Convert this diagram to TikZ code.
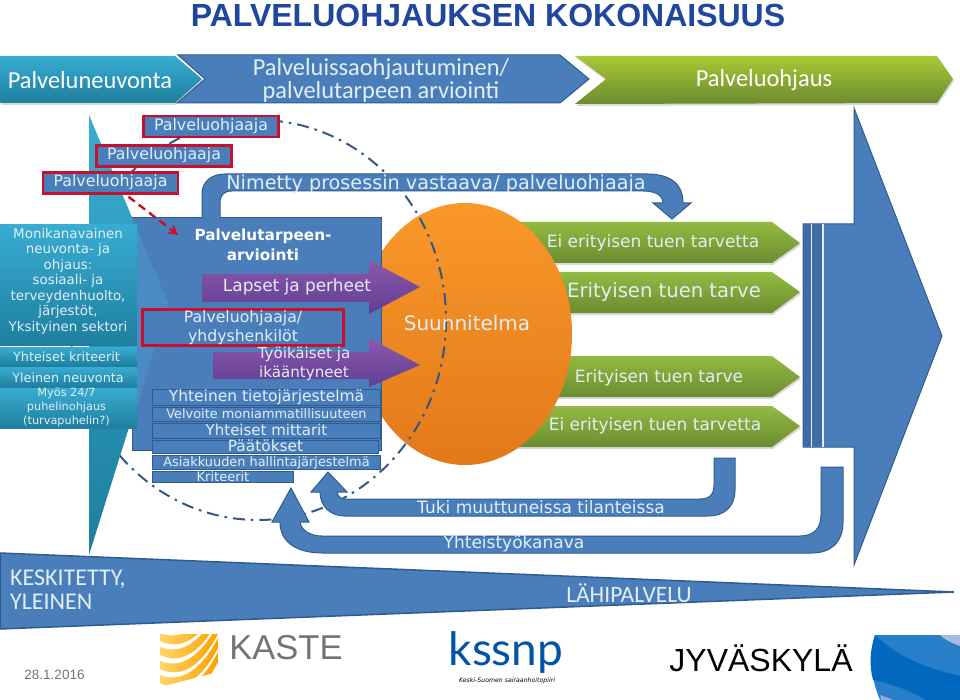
\documentclass[tikz,border=0pt]{standalone}
\usepackage{fontspec}
\setmainfont{DejaVu Sans}
\newfontfamily\titlefont{Liberation Sans}
\newfontfamily\barfont{Carlito}
\newfontfamily\logofont{Lato}
\usepackage{xcolor}
\usetikzlibrary{arrows.meta,positioning,shadows}
\definecolor{mainblue}{HTML}{4A7EBB}
\definecolor{darkblue}{HTML}{2F5C8F}
\definecolor{bandblue}{HTML}{3F6CA6}
\definecolor{wedgeblue}{HTML}{4C8AC4}
\definecolor{paleblue}{HTML}{E2EEF6}
\definecolor{redline}{HTML}{C8102E}
\definecolor{titleblue}{HTML}{1F47A0}
\definecolor{dashblue}{HTML}{34587F}
\definecolor{cyantop}{HTML}{38ACD2}
\definecolor{cyanbottom}{HTML}{1E7F9E}
\definecolor{greentop}{HTML}{93BA42}
\definecolor{greenbottom}{HTML}{6B8C30}
\definecolor{purpletop}{HTML}{8E57AC}
\definecolor{purplebottom}{HTML}{5F3F92}
\definecolor{orangetop}{HTML}{F9982A}
\definecolor{orangebottom}{HTML}{E2791A}
\newcommand{\fsz}[1]{\fontsize{#1}{#1}\selectfont}
\begin{document}
\begin{tikzpicture}[
  x=1pt,y=-1pt,
  blueshape/.style={draw=darkblue,line width=1pt,fill=mainblue},
  cyanshape/.style={top color=cyantop,bottom color=cyanbottom},
  greenshape/.style={top color=greentop,bottom color=greenbottom,drop shadow={shadow xshift=1pt,shadow yshift=-2pt,opacity=.3}},
  purpleshape/.style={top color=purpletop,bottom color=purplebottom},
  redbox/.style={draw=redline,line width=2.4pt,fill=mainblue,text=paleblue,font=\fsz{15.8},minimum width=135pt,minimum height=21pt,inner sep=0pt,text height=10.5pt,text depth=2.5pt},
  listbox/.style={draw=darkblue,line width=1pt,fill=mainblue,text=paleblue,minimum width=228pt,inner sep=0pt,anchor=north west,text height=9.5pt,text depth=1.5pt},
  cyanrow/.style={text=paleblue,font=\fsz{12.8},inner sep=0pt,align=center},
  bartext/.style={text=white,font=\barfont\fsz{24.4},align=center,inner sep=0pt},
  lighttext/.style={text=paleblue,inner sep=0pt,align=center}
]
\useasboundingbox (0,0) rectangle (960,700);
\node[font=\titlefont\bfseries\fsz{32},text=titleblue,inner sep=0pt] (title) at (488,15) {PALVELUOHJAUKSEN KOKONAISUUS};

\shade[cyanshape,drop shadow={shadow xshift=1pt,shadow yshift=-2pt,opacity=.3}] (0,56) -- (175,56) -- (202,79) -- (175,103) -- (0,103) -- cycle;
\shade[greenshape,top color=greentop!80!yellow] (575,56) -- (937,56) -- (953,79) -- (937,103) -- (575,104) -- (606,79) -- cycle;
\draw[blueshape] (178,55) -- (560,55) -- (589,79) -- (560,103) -- (177,103) -- (205,79) -- cycle;
\node[bartext] (neuvonta) at (90,80) {Palveluneuvonta};
\node[bartext,text=paleblue] (arviointi) at (381,80.5) {Palveluissaohjautuminen/\\[-2pt]palvelutarpeen arviointi};
\node[bartext] (ohjaus) at (764,80) {Palveluohjaus};

\foreach \ya/\yb/\yc in {222/243/263,272/292/313,356/377/397,406/426/447}
  \shade[greenshape] (480,\ya) -- (772,\ya) -- (800,\yb) -- (772,\yc) -- (480,\yc) -- cycle;
\shade[top color=orangetop,bottom color=orangebottom] (465,334) ellipse [x radius=107,y radius=131];
\draw[dashblue,line width=2pt,dash pattern=on 12pt off 6pt on 2.5pt off 6pt] (258,320) ellipse [x radius=188,y radius=200];

\draw[blueshape] (132,218) rectangle (381,450);
\shade[cyanshape] (89,115) -- (168,303) -- (89,555) -- cycle;
\fill[wedgeblue] (132,218) -- (168,303) -- (132,425) -- cycle;
\shade[cyanshape] (0,225) rectangle (137,345);
\shade[cyanshape] (0,347) rectangle (137,366);
\shade[cyanshape] (0,367) rectangle (137,387);
\shade[cyanshape] (0,388) rectangle (137,428);
\node[cyanrow,font=\fsz{13.4}\setlength{\baselineskip}{15.5pt}] (kanavat) at (68,281) {Monikanavainen\\neuvonta- ja\\ohjaus:\\sosiaali- ja\\terveydenhuolto,\\järjestöt,\\Yksityinen sektori};
\node[cyanrow] (kriteerit) at (66.5,356.5) {Yhteiset kriteerit};
\node[cyanrow] (neuvonta2) at (68,377.5) {Yleinen neuvonta};
\node[cyanrow,font=\fsz{11.3}\setlength{\baselineskip}{14pt}] (puhelin) at (66.5,407.5) {Myös 24/7\\puhelinohjaus\\(turvapuhelin?)};

\draw[blueshape] (202,218) -- (202,194) .. controls (202,181) and (212,174) .. (225,174) -- (647,174) .. controls (668,174) and (683,182) .. (683,203) -- (691,203) -- (672,219) -- (653,203) -- (663,203) .. controls (663,195) and (655,191) .. (643,191) -- (232,191) .. controls (224,191) and (220,195) .. (220,203) -- (220,218);
\node[lighttext,font=\fsz{19.2}] (nimetty) at (436,184) {Nimetty prosessin vastaava/ palveluohjaaja};

\node[lighttext,text=white,font=\bfseries\fsz{15.3}\setlength{\baselineskip}{20pt}] (tarve) at (263,245) {Palvelutarpeen-\\arviointi};
\node[redbox] (ohjaaja1) at (211,126.5) {Palveluohjaaja};
\node[redbox] (ohjaaja2) at (164,156) {Palveluohjaaja};
\node[redbox] (ohjaaja3) at (110.5,183) {Palveluohjaaja};
\coordinate (tarvekulma) at (178,235);
\draw[redline,line width=2.4pt,dash pattern=on 8pt off 5pt,-{Stealth[length=10pt,width=11pt]}] (ohjaaja3.south) ++(18,2) -- (tarvekulma);

\node[redbox,minimum width=201pt,minimum height=36pt] (yhdys) at (243,327.5) {};
\node[lighttext,font=\fsz{15.7}\setlength{\baselineskip}{19pt}] (yhdysteksti) at (243,328) {Palveluohjaaja/\\yhdyshenkilöt};

\shade[purpleshape] (202,274) -- (369,274) -- (369,260) -- (420,287) -- (369,314) -- (369,302) -- (202,302) -- cycle;
\shade[purpleshape] (213,352) -- (369,352) -- (369,338) -- (420,365) -- (369,387) -- (369,379) -- (213,379) -- cycle;
\node[lighttext,font=\fsz{16.9}] (lapset) at (297,287) {Lapset ja perheet};
\node[lighttext,font=\fsz{15.1}\setlength{\baselineskip}{19pt}] (tyoikaiset) at (304,363.5) {Työikäiset ja\\ikääntyneet};

\node[listbox,minimum height=16pt,font=\fsz{15.5}] (tieto) at (152,389) {Yhteinen tietojärjestelmä};
\node[listbox,minimum height=14pt,font=\fsz{12.9},below=1pt of tieto.south west,anchor=north west] (velvoite) {Velvoite moniammatillisuuteen};
\node[listbox,minimum height=15pt,font=\fsz{15},below=1pt of velvoite.south west,anchor=north west] (mittarit) {Yhteiset mittarit};
\node[listbox,minimum height=13pt,minimum width=226pt,font=\fsz{15.4},below=1pt of mittarit.south west,anchor=north west] (paatokset) {Päätökset};
\node[listbox,minimum height=14pt,font=\fsz{12.9},below=1pt of paatokset.south west,anchor=north west] (asiakkuus) {Asiakkuuden hallintajärjestelmä};
\node[listbox,minimum height=11pt,minimum width=141pt,font=\fsz{13},below=1pt of asiakkuus.south west,anchor=north west] (kriteeri) {Kriteerit};

\node[lighttext,font=\fsz{20}] (suunnitelma) at (467,323) {Suunnitelma};
\node[lighttext,font=\fsz{17}] (ei1) at (653,243) {Ei erityisen tuen tarvetta};
\node[lighttext,font=\fsz{19.6}] (tarve1) at (664,292) {Erityisen tuen tarve};
\node[lighttext,font=\fsz{17}] (tarve2) at (659,378) {Erityisen tuen tarve};
\node[lighttext,font=\fsz{17}] (ei2) at (655,426) {Ei erityisen tuen tarvetta};

\draw[blueshape] (854,108) -- (942,336) -- (854,565) -- (854,447) -- (803,447) -- (803,224) -- (854,224) -- cycle;
\fill[bandblue] (804,225) rectangle (811,446) (812,225) rectangle (822,446);
\draw[paleblue,line width=1.5pt] (811.5,224) -- (811.5,447) (823,224) -- (823,447);

\draw[blueshape] (735,458) -- (735,490) .. controls (735,506) and (725,516) .. (708,516) -- (345,516) .. controls (330,516) and (320,506) .. (320,492) -- (311,492) -- (328,472) -- (347,492) -- (337,492) .. controls (338,496) and (340,499) .. (345,499) -- (700,499) .. controls (710,499) and (714,494) .. (714,485) -- (714,458) -- cycle;
\draw[blueshape] (843,467) -- (843,522) .. controls (843,543) and (830,553) .. (812,553) -- (322,553) .. controls (298,553) and (280,543) .. (280,522) -- (272,522) -- (291,488) -- (309,522) -- (300,522) .. controls (301,530) and (310,536) .. (322,536) -- (800,536) .. controls (814,536) and (821,528) .. (821,515) -- (821,467) -- cycle;
\node[lighttext,font=\fsz{17}] (tuki) at (541,507.5) {Tuki muuttuneissa tilanteissa};
\node[lighttext,font=\fsz{17}] (kanava) at (514,544) {Yhteistyökanava};

\draw[draw=darkblue,line width=1.5pt,fill=mainblue] (0,553) -- (954,592) -- (0,629) -- cycle;
\node[lighttext,font=\barfont\fsz{24}\setlength{\baselineskip}{24pt},align=left,anchor=west] (keskitetty) at (10,590) {KESKITETTY,\\YLEINEN};
\node[lighttext,font=\barfont\fsz{23.5}] (lahipalvelu) at (629,593) {LÄHIPALVELU};

\begin{scope}
\clip (160,634) -- (218,634) -- (218,672) -- (160,687) -- cycle;
\foreach \dy in {-28,-14,0,14,28,42}
  \shade[left color=yellow!45!orange!60!white,right color=orange!75!yellow,shift={(0,\dy)}] (160,647) .. controls (185,657) and (205,635) .. (218,610) -- (218,620) .. controls (205,645) and (185,667) .. (160,655) -- cycle;
\end{scope}
\node[font=\titlefont\fsz{34.5},text=black!55,inner sep=0pt] (kaste) at (286,648) {KASTE};

\node[font=\logofont\fsz{46},text=blue!50!cyan!65!black,inner sep=0pt] (kssnp) at (506,652) {kssnp};
\node[font=\itshape\fsz{6.2},inner sep=0pt] (piiri) at (507,681) {Keski-Suomen sairaanhoitopiiri};
\node[font=\titlefont\fsz{32},text=black,inner sep=0pt] (jkl) at (761,658) {JYVÄSKYLÄ};
\node[font=\titlefont\fsz{13.5},text=black!55,inner sep=0pt] (paiva) at (54.5,675) {28.1.2016};

\fill[cyan!55!blue!90!white] (875,635) -- (960,635) -- (960,700) -- (880,700) .. controls (872,680) and (868,660) .. (875,635) -- cycle;
\fill[blue!45!cyan!75!black] (875,635) .. controls (900,660) and (935,670) .. (960,676) -- (960,700) -- (926,700) .. controls (905,688) and (885,682) .. (873,680) .. controls (869,665) and (870,650) .. (875,635) -- cycle;
\fill[cyan!70!blue!85!black] (933,635) .. controls (940,645) and (950,650) .. (960,658) -- (960,635) -- cycle;
\fill[cyan!45!blue!35!white] (940,635) .. controls (945,640) and (952,643) .. (960,646) -- (960,635) -- cycle;
\fill[cyan!45!blue!45!white] (880,695) .. controls (885,697) and (890,698) .. (893,700) -- (881,700) -- cycle;
\end{tikzpicture}
\end{document}
